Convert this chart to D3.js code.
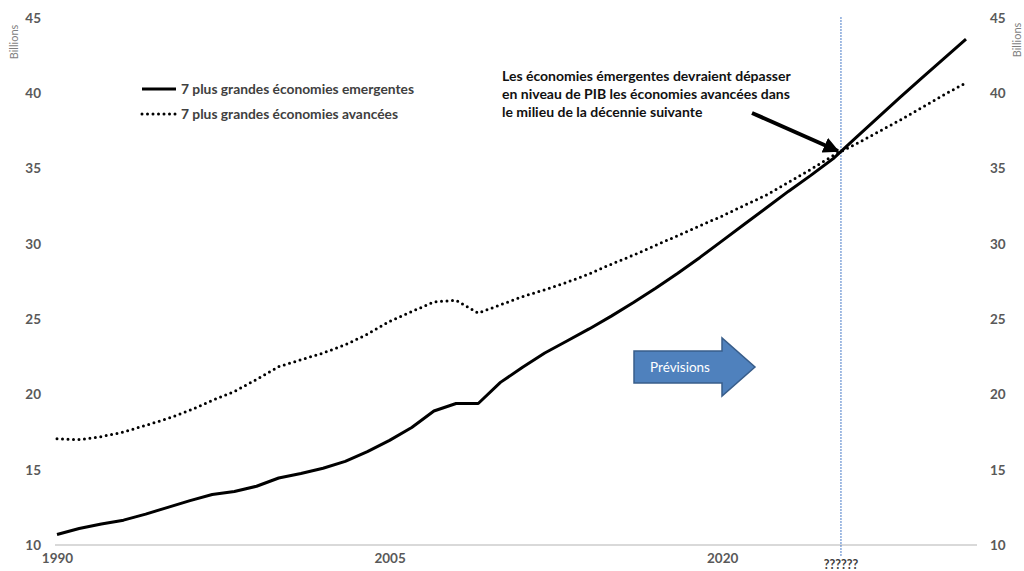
<!DOCTYPE html>
<html>
<head>
<meta charset="utf-8">
<script src="https://cdn.jsdelivr.net/npm/d3@7"></script>
<style>
  html, body { margin: 0; padding: 0; background: #fff; }
  svg { display: block; font-family: Lato, "Open Sans", sans-serif; }
</style>
</head>
<body>
<svg id="chart" width="1024" height="571"></svg>
<script>
// ---- data ----
const years = d3.range(1990, 2032);
const emergingValues = [
  10.7, 11.1, 11.4, 11.65, 12.05, 12.5, 12.95, 13.35, 13.55, 13.9,
  14.45, 14.75, 15.1, 15.55, 16.2, 16.95, 17.8, 18.9, 19.4, 19.4,
  20.8, 21.8, 22.75, 23.55, 24.35, 25.2, 26.1, 27.05, 28.05, 29.1,
  30.2, 31.3, 32.4, 33.5, 34.55, 35.65, 37.0, 38.35, 39.7, 41.0,
  42.3, 43.6
];
const advancedValues = [
  17.05, 17.0, 17.2, 17.5, 17.95, 18.4, 18.95, 19.6, 20.2, 21.0,
  21.85, 22.3, 22.75, 23.3, 24.0, 24.85, 25.5, 26.15, 26.25, 25.4,
  25.95, 26.5, 26.95, 27.45, 28.0, 28.65, 29.25, 29.9, 30.55, 31.2,
  31.85, 32.55, 33.25, 34.1, 34.95, 35.85, 36.6, 37.4, 38.2, 39.05,
  39.9, 40.7
];
const seriesNames = ["7 plus grandes économies emergentes", "7 plus grandes économies avancées"];
const yTicks = [10, 15, 20, 25, 30, 35, 40, 45];
const xTickYears = [1990, 2005, 2020];
const crossoverYear = 2025.36;
const crossoverLabel = "??????";
const annotationLines = [
  "Les économies émergentes devraient dépasser",
  "en niveau de PIB les économies avancées dans",
  "le milieu de la décennie suivante"
];
const forecastLabel = "Prévisions";
const axisTitle = "Billions";

// ---- scales ----
const svg = d3.select("#chart");
const x = d3.scaleLinear().domain([1990, 2031]).range([57, 966]);
const y = d3.scaleLinear().domain([10, 45]).range([545, 18]);
const labelColor = "#595959";

// baseline gridline
svg.append("line")
  .attr("x1", 55).attr("x2", 977)
  .attr("y1", y(10)).attr("y2", y(10))
  .attr("stroke", "#d9d9d9").attr("stroke-width", 2);

// left axis
const leftAxis = d3.axisLeft(y).tickValues(yTicks).tickSize(0).tickPadding(0);
const gl = svg.append("g").attr("transform", "translate(41,0)").call(leftAxis);
gl.select(".domain").remove();
gl.selectAll("text").attr("fill", labelColor).attr("font-size", 13.5)
  .attr("font-weight", "bold").attr("font-family", "Lato, sans-serif");

// right axis
const rightAxis = d3.axisRight(y).tickValues(yTicks).tickSize(0).tickPadding(0);
const gr = svg.append("g").attr("transform", "translate(990,0)").call(rightAxis);
gr.select(".domain").remove();
gr.selectAll("text").attr("fill", labelColor).attr("font-size", 13.5)
  .attr("font-weight", "bold").attr("font-family", "Lato, sans-serif");

// axis titles
svg.append("text").attr("transform", "translate(18,42) rotate(-90)")
  .attr("text-anchor", "middle").attr("font-size", 11).attr("fill", "#7f7f7f")
  .text(axisTitle);
svg.append("text").attr("transform", "translate(1021,40) rotate(-90)")
  .attr("text-anchor", "middle").attr("font-size", 11).attr("fill", "#7f7f7f")
  .text(axisTitle);

// bottom axis
const bottomAxis = d3.axisBottom(x).tickValues(xTickYears).tickFormat(d3.format("d"))
  .tickSize(0).tickPadding(0);
const gb = svg.append("g").attr("transform", "translate(0,553)").call(bottomAxis);
gb.select(".domain").remove();
gb.selectAll("text").attr("fill", labelColor).attr("font-size", 13.5)
  .attr("font-weight", "bold").attr("font-family", "Lato, sans-serif");

// crossover vertical line
svg.append("line")
  .attr("x1", x(crossoverYear)).attr("x2", x(crossoverYear))
  .attr("y1", 17).attr("y2", 556)
  .attr("stroke", "#4a7cc9").attr("stroke-width", 1).attr("stroke-dasharray", "2,1");
svg.append("text").attr("x", x(crossoverYear)).attr("y", 569)
  .attr("text-anchor", "middle").attr("font-size", 12.5).attr("font-weight", "bold")
  .attr("fill", "#404040").text(crossoverLabel);

// lines
const line = d3.line().x((d, i) => x(years[i])).y(d => y(d));
svg.append("path").datum(advancedValues)
  .attr("d", line).attr("fill", "none").attr("stroke", "#000")
  .attr("stroke-width", 3).attr("stroke-dasharray", "0,5.5").attr("stroke-linecap", "round");
svg.append("path").datum(emergingValues)
  .attr("d", line).attr("fill", "none").attr("stroke", "#000")
  .attr("stroke-width", 3).attr("stroke-linejoin", "round");

// legend
const legend = svg.append("g");
legend.append("line").attr("x1", 142).attr("x2", 176).attr("y1", 89).attr("y2", 89)
  .attr("stroke", "#000").attr("stroke-width", 3);
legend.append("line").attr("x1", 142).attr("x2", 176).attr("y1", 114).attr("y2", 114)
  .attr("stroke", "#000").attr("stroke-width", 3).attr("stroke-dasharray", "0,5.5")
  .attr("stroke-linecap", "round");
legend.selectAll("text.leg").data(seriesNames).join("text")
  .attr("class", "leg")
  .attr("x", 181).attr("y", (d, i) => 89 + i * 25).attr("dy", "0.35em")
  .attr("font-size", 13.8).attr("font-weight", "bold").attr("fill", "#404040")
  .text(d => d);

// annotation text
svg.selectAll("text.ann").data(annotationLines).join("text")
  .attr("class", "ann")
  .attr("x", 502).attr("y", (d, i) => 76 + i * 18).attr("dy", "0.35em")
  .attr("font-size", 14).attr("font-weight", "bold").attr("fill", "#111")
  .text(d => d);

// annotation arrow
const defs = svg.append("defs");
defs.append("marker").attr("id", "ah").attr("viewBox", "0 0 10 10")
  .attr("refX", 9).attr("refY", 5).attr("markerWidth", 4).attr("markerHeight", 4)
  .attr("markerUnits", "strokeWidth").attr("orient", "auto")
  .append("path").attr("d", "M0,0 L10,5 L0,10 z").attr("fill", "#000");
svg.append("line")
  .attr("x1", 752).attr("y1", 113).attr("x2", x(crossoverYear) - 3).attr("y2", y(36.1) - 1)
  .attr("stroke", "#000").attr("stroke-width", 4).attr("marker-end", "url(#ah)");

// forecast block arrow
const ax0 = 634, ax1 = 722, ax2 = 755, ayc = 367;
const arrowPts = [
  [ax0, ayc - 16], [ax1, ayc - 16], [ax1, ayc - 29], [ax2, ayc],
  [ax1, ayc + 29], [ax1, ayc + 16], [ax0, ayc + 16]
];
svg.append("polygon")
  .attr("points", arrowPts.map(p => p.join(",")).join(" "))
  .attr("fill", "#4f81bd").attr("stroke", "#385d8a").attr("stroke-width", 1.5);
svg.append("text").attr("x", 680).attr("y", ayc).attr("dy", "0.35em")
  .attr("text-anchor", "middle").attr("font-size", 13.5).attr("fill", "#fff")
  .text(forecastLabel);
</script>
</body>
</html>
